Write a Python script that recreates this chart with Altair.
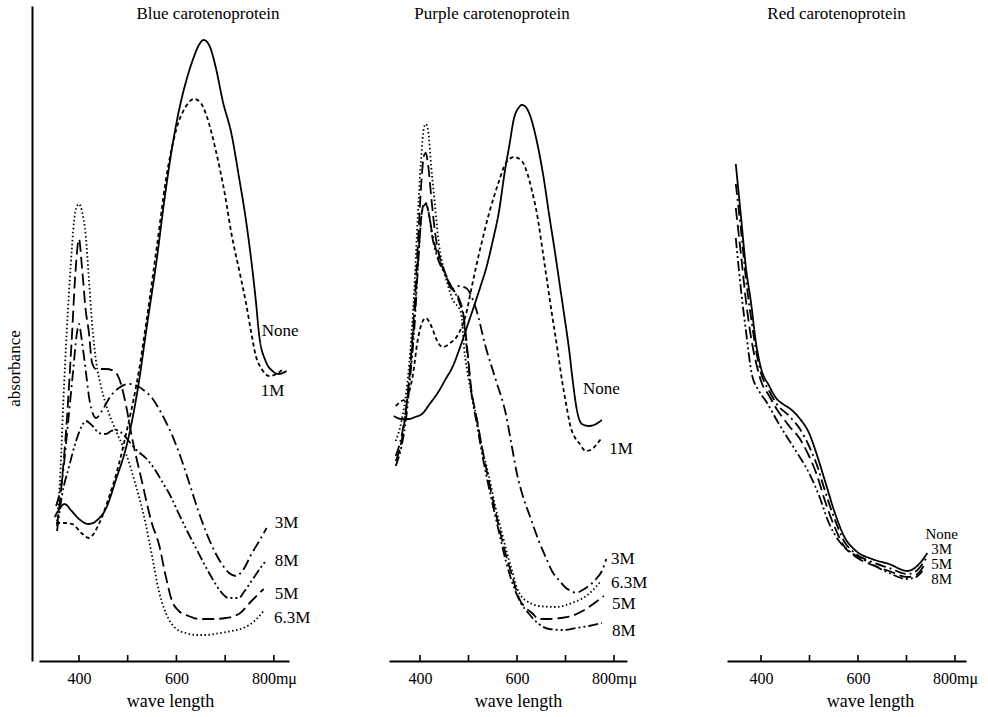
import altair as alt
import pandas as pd

SERIF = "Liberation Serif"

SERIES = ["None", "1M", "3M", "5M", "6.3M", "8M"]
DASHES = [[1, 0], [4, 3], [11, 4, 2, 4], [12, 5], [1.5, 2.5], [10, 3, 2, 3, 2, 3]]
TICK_WL = [400, 500, 600, 700, 800]
LABEL_WL = [400, 600, 800]

# ---------------- Blue carotenoprotein ----------------
BLUE_NONE_WL = [350, 360, 370, 385, 400, 420, 440, 455, 475, 500, 520, 540, 560, 575, 590, 605, 620, 635, 645, 656, 668, 681, 695, 713, 728, 742, 755, 763, 770, 783, 797, 810, 826]
BLUE_NONE_A = [1.44, 1.52, 1.57, 1.50, 1.42, 1.37, 1.42, 1.52, 1.80, 2.20, 2.70, 3.37, 4.03, 4.60, 5.10, 5.50, 5.80, 6.03, 6.15, 6.21, 6.15, 5.93, 5.60, 5.27, 4.85, 4.43, 3.95, 3.60, 3.25, 3.00, 2.90, 2.87, 2.90]
BLUE_1M_WL = [353, 370, 386, 405, 420, 441, 461, 482, 498, 523, 540, 560, 578, 600, 620, 636, 650, 662, 681, 700, 713, 730, 742, 754, 763, 775, 790, 805, 820]
BLUE_1M_A = [1.38, 1.38, 1.37, 1.28, 1.23, 1.37, 1.63, 1.97, 2.30, 2.90, 3.45, 4.15, 4.80, 5.32, 5.55, 5.62, 5.58, 5.45, 5.10, 4.65, 4.27, 3.88, 3.60, 3.27, 3.05, 2.92, 2.85, 2.87, 2.92]
BLUE_3M_WL = [353, 365, 378, 388, 395, 400, 406, 414, 422, 435, 447, 465, 482, 502, 520, 535, 550, 570, 590, 610, 625, 645, 660, 680, 693, 708, 722, 738, 754, 770, 785]
BLUE_3M_A = [1.55, 1.80, 2.40, 2.90, 3.25, 3.37, 3.20, 2.90, 2.60, 2.43, 2.50, 2.65, 2.73, 2.77, 2.75, 2.70, 2.63, 2.47, 2.27, 2.02, 1.80, 1.50, 1.30, 1.08, 0.97, 0.88, 0.85, 0.92, 1.07, 1.20, 1.33]
BLUE_5M_WL = [355, 365, 375, 385, 393, 400, 406, 414, 420, 427, 435, 455, 472, 482, 496, 509, 529, 550, 564, 578, 591, 605, 625, 646, 675, 701, 728, 754, 779]
BLUE_5M_A = [1.35, 1.80, 2.40, 3.20, 3.90, 4.22, 3.95, 3.50, 3.30, 2.98, 2.92, 2.92, 2.90, 2.83, 2.57, 2.23, 1.80, 1.37, 1.17, 0.85, 0.60, 0.50, 0.45, 0.42, 0.42, 0.43, 0.47, 0.60, 0.72]
BLUE_63M_WL = [355, 362, 368, 375, 383, 390, 396, 400, 406, 414, 420, 427, 435, 445, 455, 476, 496, 517, 537, 550, 564, 584, 600, 619, 640, 660, 690, 713, 742, 760, 779]
BLUE_63M_A = [1.40, 1.90, 2.60, 3.30, 3.95, 4.40, 4.55, 4.57, 4.50, 4.25, 3.85, 3.37, 3.00, 2.75, 2.57, 2.30, 2.08, 1.75, 1.37, 1.05, 0.70, 0.42, 0.32, 0.28, 0.26, 0.26, 0.28, 0.30, 0.34, 0.40, 0.50]
BLUE_8M_WL = [355, 365, 380, 394, 406, 414, 428, 441, 455, 466, 476, 488, 502, 520, 537, 555, 570, 590, 605, 622, 640, 657, 673, 690, 707, 728, 740, 754, 768, 783]
BLUE_8M_A = [1.30, 1.65, 1.95, 2.20, 2.35, 2.40, 2.35, 2.28, 2.27, 2.30, 2.31, 2.28, 2.20, 2.10, 2.03, 1.92, 1.80, 1.63, 1.47, 1.30, 1.13, 0.97, 0.83, 0.70, 0.63, 0.63, 0.70, 0.80, 0.90, 1.00]
BLUE_LABELS = ["None", "1M", "3M", "8M", "5M", "6.3M"]
BLUE_LABEL_WL = [775, 773, 802, 802, 802, 800]
BLUE_LABEL_A = [3.30, 2.70, 1.38, 1.00, 0.67, 0.43]

# ---------------- Purple carotenoprotein ----------------
PURPLE_NONE_WL = [346, 362, 377, 390, 404, 420, 439, 453, 466, 485, 501, 515, 527, 536, 550, 563, 575, 584, 594, 603, 610, 618, 625, 635, 645, 656, 666, 677, 687, 697, 707, 715, 722, 728, 734, 748, 763, 775]
PURPLE_NONE_A = [2.45, 2.42, 2.42, 2.44, 2.47, 2.57, 2.70, 2.82, 2.93, 3.17, 3.40, 3.60, 3.78, 3.92, 4.20, 4.50, 4.90, 5.15, 5.43, 5.53, 5.56, 5.54, 5.48, 5.32, 5.10, 4.80, 4.47, 4.13, 3.80, 3.47, 3.13, 2.80, 2.55, 2.42, 2.37, 2.35, 2.37, 2.41]
PURPLE_1M_WL = [350, 362, 371, 385, 395, 404, 412, 418, 425, 432, 439, 447, 454, 465, 474, 485, 495, 505, 515, 528, 542, 553, 563, 577, 594, 610, 621, 631, 642, 652, 662, 672, 683, 693, 702, 710, 720, 728, 742, 755, 765, 773]
PURPLE_1M_A = [2.55, 2.60, 2.62, 2.85, 3.20, 3.38, 3.43, 3.40, 3.33, 3.24, 3.17, 3.14, 3.15, 3.19, 3.23, 3.33, 3.47, 3.70, 3.93, 4.20, 4.47, 4.65, 4.80, 4.98, 5.04, 5.00, 4.88, 4.70, 4.45, 4.13, 3.80, 3.47, 3.13, 2.80, 2.55, 2.35, 2.23, 2.18, 2.10, 2.12, 2.17, 2.22]
PURPLE_3M_WL = [350, 362, 372, 380, 388, 396, 403, 408, 412, 418, 425, 435, 450, 466, 480, 495, 515, 536, 557, 577, 590, 600, 612, 625, 645, 660, 672, 688, 701, 712, 722, 735, 742, 763, 775, 784]
PURPLE_3M_A = [2.05, 2.25, 2.55, 2.92, 3.40, 4.00, 4.45, 4.55, 4.57, 4.48, 4.28, 4.08, 3.90, 3.72, 3.75, 3.73, 3.53, 3.13, 2.80, 2.47, 2.13, 1.87, 1.65, 1.47, 1.20, 1.03, 0.90, 0.80, 0.73, 0.70, 0.68, 0.71, 0.73, 0.82, 0.90, 1.02]
PURPLE_5M_WL = [350, 362, 372, 380, 388, 396, 403, 408, 412, 417, 424, 432, 440, 452, 466, 480, 490, 497, 505, 518, 530, 545, 560, 575, 590, 604, 618, 631, 645, 665, 690, 713, 735, 760, 779]
PURPLE_5M_A = [2.00, 2.20, 2.55, 2.95, 3.50, 4.20, 4.80, 5.05, 5.08, 4.95, 4.60, 4.25, 4.05, 3.88, 3.73, 3.63, 3.45, 3.15, 2.75, 2.40, 2.08, 1.73, 1.40, 1.10, 0.85, 0.63, 0.53, 0.48, 0.42, 0.42, 0.43, 0.45, 0.50, 0.58, 0.65]
PURPLE_63M_WL = [350, 362, 372, 380, 388, 395, 402, 408, 412, 417, 423, 430, 439, 450, 466, 485, 491, 501, 515, 528, 542, 555, 568, 580, 590, 600, 610, 620, 645, 680, 713, 748, 773]
PURPLE_63M_A = [2.20, 2.40, 2.70, 3.10, 3.70, 4.40, 5.00, 5.33, 5.37, 5.30, 4.95, 4.60, 4.17, 3.90, 3.63, 3.47, 3.13, 2.80, 2.47, 2.13, 1.85, 1.55, 1.30, 1.07, 0.90, 0.73, 0.64, 0.60, 0.55, 0.54, 0.58, 0.67, 0.80]
PURPLE_8M_WL = [350, 362, 372, 380, 388, 396, 403, 408, 412, 418, 425, 435, 450, 466, 480, 490, 497, 505, 518, 530, 545, 560, 577, 595, 608, 625, 645, 666, 693, 722, 748, 775]
PURPLE_8M_A = [1.95, 2.15, 2.45, 2.85, 3.30, 3.95, 4.45, 4.57, 4.58, 4.48, 4.25, 4.05, 3.88, 3.73, 3.60, 3.42, 3.10, 2.72, 2.35, 2.02, 1.67, 1.35, 1.00, 0.72, 0.58, 0.47, 0.37, 0.32, 0.31, 0.33, 0.35, 0.38]
PURPLE_LABELS = ["None", "1M", "3M", "6.3M", "5M", "8M"]
PURPLE_LABEL_WL = [736, 790, 794, 794, 796, 796]
PURPLE_LABEL_A = [2.72, 2.12, 1.02, 0.78, 0.57, 0.30]

# ---------------- Red carotenoprotein ----------------
RED_NONE_WL = [348, 359, 369, 379, 390, 400, 417, 431, 445, 458, 479, 499, 516, 532, 551, 571, 596, 629, 664, 702, 714, 726, 743]
RED_NONE_A = [4.97, 4.43, 3.93, 3.60, 3.17, 2.93, 2.75, 2.63, 2.57, 2.53, 2.43, 2.28, 2.05, 1.80, 1.50, 1.25, 1.10, 1.02, 0.97, 0.90, 0.92, 0.97, 1.08]
RED_3M_WL = [348, 359, 369, 379, 390, 400, 417, 431, 458, 479, 499, 516, 532, 551, 571, 596, 629, 664, 702, 720, 741]
RED_3M_A = [4.77, 4.30, 3.82, 3.45, 3.10, 2.88, 2.70, 2.58, 2.45, 2.33, 2.15, 1.95, 1.70, 1.43, 1.20, 1.07, 0.99, 0.93, 0.87, 0.90, 1.03]
RED_5M_WL = [348, 359, 369, 379, 390, 400, 417, 431, 458, 479, 499, 516, 532, 551, 571, 596, 629, 664, 702, 720, 739]
RED_5M_A = [4.53, 4.05, 3.60, 3.25, 2.98, 2.80, 2.65, 2.53, 2.35, 2.23, 2.05, 1.85, 1.60, 1.35, 1.15, 1.04, 0.96, 0.90, 0.84, 0.86, 0.98]
RED_8M_WL = [348, 359, 369, 381, 396, 410, 437, 472, 499, 520, 540, 561, 582, 617, 664, 700, 720, 733]
RED_8M_A = [4.23, 3.70, 3.30, 2.87, 2.70, 2.60, 2.37, 2.10, 1.88, 1.65, 1.38, 1.20, 1.10, 1.00, 0.88, 0.82, 0.84, 0.90]
RED_LABELS = ["None", "3M", "5M", "8M"]
RED_LABEL_WL = [739, 751, 751, 751]
RED_LABEL_A = [1.27, 1.12, 0.97, 0.82]


def curve_table(pairs):
    rows = []
    for name, wl, a in pairs:
        for i, (w, v) in enumerate(zip(wl, a)):
            rows.append({"series": name, "wl": w, "a": v, "i": i})
    return pd.DataFrame(rows)


def label_table(names, wl, a):
    return pd.DataFrame({"label": names, "wl": wl, "a": a})


tick_df = pd.DataFrame({"wl": TICK_WL, "y0": [0.0] * len(TICK_WL), "y1": [0.06] * len(TICK_WL)})


def panel(curves, labels, title, xdom, width, title_dx, xtitle_x, with_y, label_size=17):
    xscale = alt.Scale(domain=xdom, nice=False, zero=False)
    yscale = alt.Scale(domain=[0, 6.55], nice=False, zero=False)
    xaxis = alt.Axis(
        values=LABEL_WL, format="d",
        labelExpr="datum.value == 800 ? '800m\u03bc' : datum.label",
        ticks=False, tickSize=0, grid=False,
        domainColor="black", domainWidth=2,
        labelFont=SERIF, labelFontSize=16, labelColor="black", labelPadding=9,
        title="wave length", titleFont=SERIF, titleFontSize=18, titleFontWeight="normal",
        titleColor="black", titleX=xtitle_x, titleY=40, titleBaseline="middle", titleAlign="center",
    )
    if with_y:
        yaxis = alt.Axis(
            title="absorbance", ticks=False, labels=False, grid=False,
            domainColor="black", domainWidth=2, offset=7,
            titleFont=SERIF, titleFontSize=17, titleFontWeight="normal", titleColor="black",
            titlePadding=9, titleY=362,
        )
    else:
        yaxis = None
    X = alt.X("wl:Q", scale=xscale, axis=xaxis)
    Y = alt.Y("a:Q", scale=yscale, axis=yaxis)

    lines = alt.Chart(curves).mark_line(color="black", strokeWidth=1.8, interpolate="monotone").encode(
        x=X, y=Y,
        detail="series:N",
        order="i:Q",
        strokeDash=alt.StrokeDash("series:N", scale=alt.Scale(domain=SERIES, range=DASHES), legend=None),
    )
    ticks = alt.Chart(tick_df).mark_rule(color="black", strokeWidth=1.6).encode(
        x=X, y=alt.Y("y0:Q", scale=yscale, axis=yaxis), y2="y1:Q"
    )
    text = alt.Chart(labels).mark_text(
        align="left", baseline="middle", font=SERIF, fontSize=label_size, color="black"
    ).encode(x=X, y=Y, text="label:N")

    return alt.layer(ticks, lines, text).properties(
        width=width, height=655,
        title=alt.TitleParams(
            text=title, font=SERIF, fontSize=17, fontWeight="normal", color="black",
            anchor="middle", frame="group", dx=title_dx, offset=-25, baseline="middle",
        ),
    )


blue = panel(
    curve_table([
        ("None", BLUE_NONE_WL, BLUE_NONE_A), ("1M", BLUE_1M_WL, BLUE_1M_A),
        ("3M", BLUE_3M_WL, BLUE_3M_A), ("5M", BLUE_5M_WL, BLUE_5M_A),
        ("6.3M", BLUE_63M_WL, BLUE_63M_A), ("8M", BLUE_8M_WL, BLUE_8M_A),
    ]),
    label_table(BLUE_LABELS, BLUE_LABEL_WL, BLUE_LABEL_A),
    "Blue carotenoprotein", [318, 831], 250, 44, 131, True,
)
purple = panel(
    curve_table([
        ("None", PURPLE_NONE_WL, PURPLE_NONE_A), ("1M", PURPLE_1M_WL, PURPLE_1M_A),
        ("3M", PURPLE_3M_WL, PURPLE_3M_A), ("5M", PURPLE_5M_WL, PURPLE_5M_A),
        ("6.3M", PURPLE_63M_WL, PURPLE_63M_A), ("8M", PURPLE_8M_WL, PURPLE_8M_A),
    ]),
    label_table(PURPLE_LABELS, PURPLE_LABEL_WL, PURPLE_LABEL_A),
    "Purple carotenoprotein", [336.1, 826.8], 238, -16, 129, False,
)
red = panel(
    curve_table([
        ("None", RED_NONE_WL, RED_NONE_A), ("3M", RED_3M_WL, RED_3M_A),
        ("5M", RED_5M_WL, RED_5M_A), ("8M", RED_8M_WL, RED_8M_A),
    ]),
    label_table(RED_LABELS, RED_LABEL_WL, RED_LABEL_A),
    "Red carotenoprotein", [329.9, 822.7], 239, -10, 143, False, label_size=15,
)

chart = alt.hconcat(blue, purple, red, spacing=100, bounds="flush").properties(
    padding={"left": 5, "top": 5, "right": 5, "bottom": 5},
    background="white",
).configure_view(stroke=None).resolve_scale(x="independent", y="independent")

chart.save("out.html", embed_options={"renderer": "svg", "actions": False})
